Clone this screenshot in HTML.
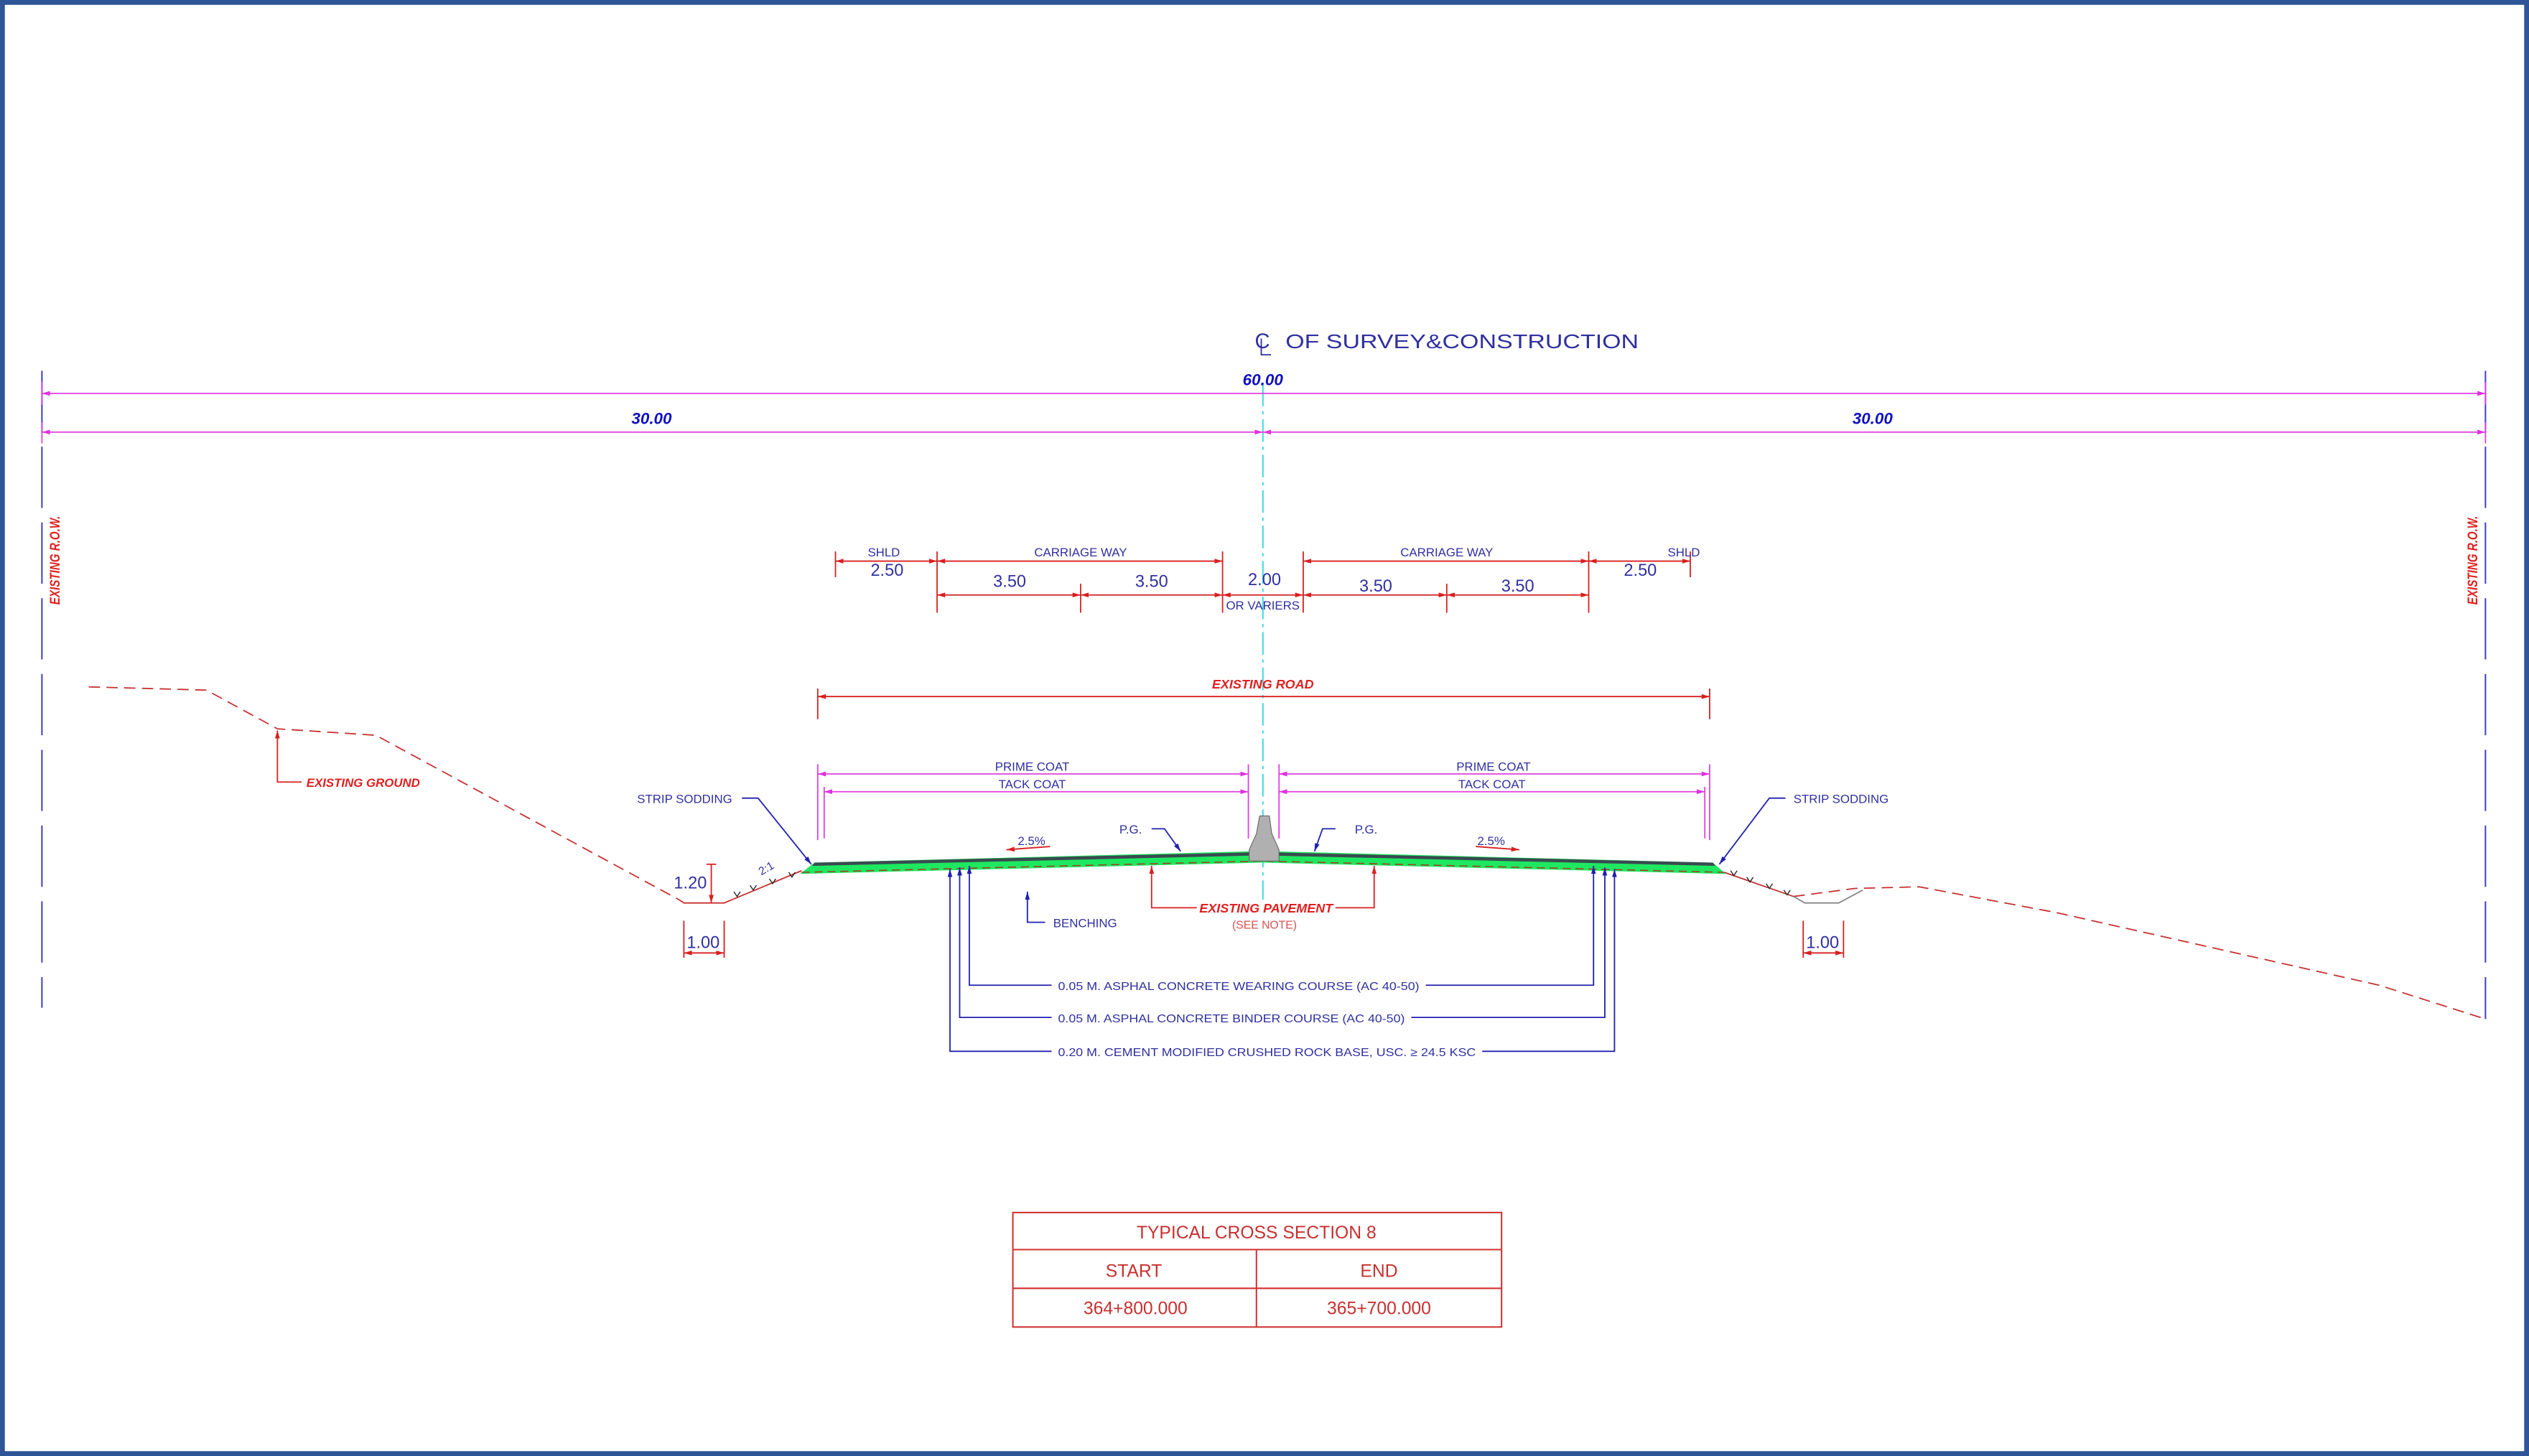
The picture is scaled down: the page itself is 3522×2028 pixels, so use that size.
<!DOCTYPE html>
<html><head><meta charset="utf-8"><style>
html,body{margin:0;padding:0;background:#fff;}
svg{display:block;}
text{font-family:"Liberation Sans",sans-serif;}
</style></head><body>
<svg width="3522" height="2028" viewBox="0 0 1568 903" preserveAspectRatio="none" xmlns="http://www.w3.org/2000/svg">
<defs>
<marker id="am" viewBox="0 0 10 6" refX="10" refY="3" markerWidth="5" markerHeight="3" orient="auto-start-reverse" markerUnits="userSpaceOnUse"><path d="M0,0L10,3L0,6z" fill="#e030e0"/></marker>
<marker id="ar" viewBox="0 0 10 6" refX="10" refY="3" markerWidth="5" markerHeight="3" orient="auto-start-reverse" markerUnits="userSpaceOnUse"><path d="M0,0L10,3L0,6z" fill="#d82020"/></marker>
<marker id="ab" viewBox="0 0 10 6" refX="10" refY="3" markerWidth="5" markerHeight="3" orient="auto-start-reverse" markerUnits="userSpaceOnUse"><path d="M0,0L10,3L0,6z" fill="#2020b0"/></marker>
</defs>
<rect x="0" y="0" width="1568" height="903" fill="#fff"/>
<rect x="1.5" y="1.5" width="1565" height="900" fill="none" stroke="#2d5598" stroke-width="3"/>

<text x="778" y="216" font-size="13" fill="#3030a0">C</text>
<path d="M782,210 V220 H788" stroke="#3030a0" stroke-width="0.8" fill="none"/>
<text x="797" y="216" font-size="12.5" fill="#3030a0" textLength="219" lengthAdjust="spacingAndGlyphs">OF SURVEY&amp;CONSTRUCTION</text>

<g stroke="#4040c0" stroke-width="0.9" stroke-dasharray="38,9">
<line x1="26" y1="230" x2="26" y2="625"/>
<line x1="1541" y1="230" x2="1541" y2="632"/>
</g>
<text transform="translate(37,375) rotate(-90)" font-size="8.5" font-style="italic" font-weight="bold" fill="#e02020" textLength="55" lengthAdjust="spacingAndGlyphs">EXISTING R.O.W.</text>
<text transform="translate(1536,375) rotate(-90)" font-size="8.5" font-style="italic" font-weight="bold" fill="#e02020" textLength="55" lengthAdjust="spacingAndGlyphs">EXISTING R.O.W.</text>

<line x1="783" y1="238" x2="783" y2="558" stroke="#40d8e0" stroke-width="0.9" stroke-dasharray="14,3,2,3"/>

<g stroke="#e040e0" stroke-width="0.8">
<line x1="26" y1="244" x2="1541" y2="244" marker-start="url(#am)" marker-end="url(#am)"/>
<line x1="26" y1="268" x2="783" y2="268" marker-start="url(#am)" marker-end="url(#am)"/>
<line x1="783" y1="268" x2="1541" y2="268" marker-start="url(#am)" marker-end="url(#am)"/>
<line x1="26" y1="237" x2="26" y2="251"/><line x1="1541" y1="237" x2="1541" y2="251"/>
<line x1="26" y1="262" x2="26" y2="275"/><line x1="1541" y1="262" x2="1541" y2="275"/>
</g>
<g font-size="10" font-style="italic" font-weight="bold" fill="#1010c0" text-anchor="middle">
<text x="783" y="239">60.00</text>
<text x="404" y="263">30.00</text>
<text x="1161" y="263">30.00</text>
</g>

<g stroke="#d82020" stroke-width="0.8">
<line x1="518" y1="348" x2="581" y2="348" marker-start="url(#ar)" marker-end="url(#ar)"/>
<line x1="581" y1="348" x2="758" y2="348" marker-start="url(#ar)" marker-end="url(#ar)"/>
<line x1="808" y1="348" x2="985" y2="348" marker-start="url(#ar)" marker-end="url(#ar)"/>
<line x1="985" y1="348" x2="1048" y2="348" marker-start="url(#ar)" marker-end="url(#ar)"/>
<line x1="581" y1="369" x2="670" y2="369" marker-start="url(#ar)" marker-end="url(#ar)"/>
<line x1="670" y1="369" x2="758" y2="369" marker-start="url(#ar)" marker-end="url(#ar)"/>
<line x1="758" y1="369" x2="808" y2="369" marker-start="url(#ar)" marker-end="url(#ar)"/>
<line x1="808" y1="369" x2="897" y2="369" marker-start="url(#ar)" marker-end="url(#ar)"/>
<line x1="897" y1="369" x2="985" y2="369" marker-start="url(#ar)" marker-end="url(#ar)"/>
<line x1="518" y1="342" x2="518" y2="358"/>
<line x1="581" y1="342" x2="581" y2="380"/>
<line x1="670" y1="362" x2="670" y2="380"/>
<line x1="758" y1="342" x2="758" y2="380"/>
<line x1="808" y1="342" x2="808" y2="380"/>
<line x1="897" y1="362" x2="897" y2="380"/>
<line x1="985" y1="342" x2="985" y2="380"/>
<line x1="1048" y1="342" x2="1048" y2="358"/>
</g>
<g fill="#3030a0" text-anchor="middle">
<g font-size="7.5">
<text x="548" y="345">SHLD</text>
<text x="670" y="345">CARRIAGE WAY</text>
<text x="897" y="345">CARRIAGE WAY</text>
<text x="1044" y="345">SHLD</text>
<text x="783" y="378">OR VARIERS</text>
</g>
<g font-size="10.5">
<text x="550" y="357">2.50</text>
<text x="626" y="364">3.50</text>
<text x="714" y="364">3.50</text>
<text x="784" y="363">2.00</text>
<text x="853" y="367">3.50</text>
<text x="941" y="367">3.50</text>
<text x="1017" y="357">2.50</text>
</g>
</g>

<g stroke="#d82020" stroke-width="0.8">
<line x1="507" y1="432" x2="1060" y2="432" marker-start="url(#ar)" marker-end="url(#ar)"/>
<line x1="507" y1="427" x2="507" y2="446"/>
<line x1="1060" y1="427" x2="1060" y2="446"/>
</g>
<text x="783" y="427" font-size="8" font-style="italic" font-weight="bold" fill="#e02020" text-anchor="middle">EXISTING ROAD</text>

<g stroke="#e040e0" stroke-width="0.8">
<line x1="507" y1="480" x2="774" y2="480" marker-start="url(#am)" marker-end="url(#am)"/>
<line x1="793" y1="480" x2="1060" y2="480" marker-start="url(#am)" marker-end="url(#am)"/>
<line x1="511" y1="491" x2="774" y2="491" marker-start="url(#am)" marker-end="url(#am)"/>
<line x1="793" y1="491" x2="1057" y2="491" marker-start="url(#am)" marker-end="url(#am)"/>
<line x1="507" y1="474" x2="507" y2="521"/>
<line x1="511" y1="488" x2="511" y2="520"/>
<line x1="774" y1="474" x2="774" y2="520"/>
<line x1="793" y1="474" x2="793" y2="520"/>
<line x1="1057" y1="488" x2="1057" y2="520"/>
<line x1="1060" y1="474" x2="1060" y2="521"/>
</g>
<g font-size="7.5" fill="#3030a0" text-anchor="middle">
<text x="640" y="478">PRIME COAT</text>
<text x="640" y="489">TACK COAT</text>
<text x="926" y="478">PRIME COAT</text>
<text x="925" y="489">TACK COAT</text>
</g>

<g fill="none" stroke="#c83030" stroke-width="0.8" stroke-dasharray="7,4">
<polyline points="55,426 128,428 172,452 233,456 421,558"/>
<polyline points="1112,556 1150,551 1190,550 1275,566 1475,611 1541,632"/>
</g>
<polyline points="421,558 424,560 449,560 497,540" fill="none" stroke="#c83030" stroke-width="0.8"/>
<polyline points="1069,541 1112,556 1119,560 1140,560 1155,552" fill="none" stroke="#888" stroke-width="0.8"/>
<polyline points="1069,541 1112,556" fill="none" stroke="#c83030" stroke-width="0.7"/>
<g stroke="#222" stroke-width="0.6" fill="none">
<path d="M455,553l2,3l2,-3M465,549l2,3l2,-3M477,545l2,3l2,-3M489,541l2,3l2,-3"/>
<path d="M1073,540l2,3l2,-3M1083,544l2,3l2,-3M1095,548l2,3l2,-3M1106,552l2,3l2,-3"/>
</g>

<path d="M496,542 L505,535 L775,528 L791,528 L1062,535 L1070,542 L783,535 Z" fill="#1ee860"/>
<path d="M505,535 L783,528.5 L1062,535 L1063.5,537 L783,530.5 L503.5,537 Z" fill="#3a4a50"/>
<polyline points="497,541 783,534 1069,541" fill="none" stroke="#a04020" stroke-width="0.7" stroke-dasharray="5,3"/>
<path d="M781,506 L787,506 L788.5,517 L793,527 L793,534 L774.5,534 L774.5,527 L779,517 Z" fill="#b0b0b0" stroke="#666" stroke-width="0.5"/>

<g stroke="#d82020" stroke-width="0.8">
<line x1="441" y1="536" x2="441" y2="560" marker-end="url(#ar)"/>
<line x1="438" y1="536" x2="444" y2="536"/>
<line x1="424" y1="571" x2="424" y2="594"/><line x1="449" y1="571" x2="449" y2="594"/>
<line x1="424" y1="591" x2="449" y2="591" marker-start="url(#ar)" marker-end="url(#ar)"/>
<line x1="1118" y1="571" x2="1118" y2="594"/><line x1="1143" y1="571" x2="1143" y2="594"/>
<line x1="1118" y1="591" x2="1143" y2="591" marker-start="url(#ar)" marker-end="url(#ar)"/>
</g>
<g font-size="10.5" fill="#3030a0" text-anchor="middle">
<text x="428" y="551">1.20</text>
<text x="436" y="588">1.00</text>
<text x="1130" y="588">1.00</text>
</g>
<text transform="translate(472,543) rotate(-30)" font-size="7" fill="#3030a0">2:1</text>

<polyline points="187,485 172,485 172,453" fill="none" stroke="#d82020" stroke-width="0.8" marker-end="url(#ar)"/>
<text x="190" y="488" font-size="7.5" font-style="italic" font-weight="bold" fill="#e02020">EXISTING GROUND</text>

<g stroke="#2020b0" stroke-width="0.8" fill="none">
<polyline points="460,495 470,495 503,536" marker-end="url(#ab)"/>
<polyline points="1107,495 1097,495 1066,536" marker-end="url(#ab)"/>
<polyline points="714,514 722,514 732,528" marker-end="url(#ab)"/>
<polyline points="828,514 820,514 815,528" marker-end="url(#ab)"/>
<polyline points="648,572 637,572 637,553" marker-end="url(#ab)"/>
</g>
<g font-size="7.5" fill="#3030a0">
<text x="395" y="498">STRIP SODDING</text>
<text x="1112" y="498">STRIP SODDING</text>
<text x="694" y="517">P.G.</text>
<text x="840" y="517">P.G.</text>
<text x="631" y="524">2.5%</text>
<text x="916" y="524">2.5%</text>
<text x="653" y="575">BENCHING</text>
</g>
<g stroke="#d82020" stroke-width="0.8">
<line x1="651" y1="525" x2="624" y2="527" marker-end="url(#ar)"/>
<line x1="915" y1="525" x2="942" y2="527" marker-end="url(#ar)"/>
</g>

<g stroke="#d82020" stroke-width="0.8" fill="none">
<polyline points="742,563 714,563 714,537" marker-end="url(#ar)"/>
<polyline points="828,563 852,563 852,537" marker-end="url(#ar)"/>
</g>
<text x="785" y="566" font-size="8" font-style="italic" font-weight="bold" fill="#e02020" text-anchor="middle">EXISTING PAVEMENT</text>
<text x="784" y="576" font-size="7" fill="#d85050" text-anchor="middle">(SEE NOTE)</text>

<g stroke="#2020b0" stroke-width="0.8" fill="none">
<polyline points="652,611 601,611 601,537" marker-end="url(#ab)"/>
<polyline points="652,631 595,631 595,538" marker-end="url(#ab)"/>
<polyline points="652,652 589,652 589,539" marker-end="url(#ab)"/>
<polyline points="884,611 988,611 988,537" marker-end="url(#ab)"/>
<polyline points="875,631 995,631 995,538" marker-end="url(#ab)"/>
<polyline points="919,652 1001,652 1001,539" marker-end="url(#ab)"/>
</g>
<g font-size="7" fill="#3030a0">
<text x="656" y="614" textLength="224" lengthAdjust="spacingAndGlyphs">0.05 M. ASPHAL CONCRETE WEARING COURSE (AC 40-50)</text>
<text x="656" y="634" textLength="215" lengthAdjust="spacingAndGlyphs">0.05 M. ASPHAL CONCRETE BINDER COURSE (AC 40-50)</text>
<text x="656" y="655" textLength="259" lengthAdjust="spacingAndGlyphs">0.20 M. CEMENT MODIFIED CRUSHED ROCK BASE, USC. ≥ 24.5 KSC</text>
</g>

<g stroke="#d03030" stroke-width="0.9" fill="none">
<rect x="628" y="752" width="303" height="71"/>
<line x1="628" y1="775" x2="931" y2="775"/>
<line x1="628" y1="799" x2="931" y2="799"/>
<line x1="779" y1="775" x2="779" y2="823"/>
</g>
<g font-size="11" fill="#c83030" text-anchor="middle">
<text x="779" y="768">TYPICAL CROSS SECTION 8</text>
<text x="703" y="792">START</text>
<text x="855" y="792">END</text>
<text x="704" y="815">364+800.000</text>
<text x="855" y="815">365+700.000</text>
</g>
</svg>
</body></html>
